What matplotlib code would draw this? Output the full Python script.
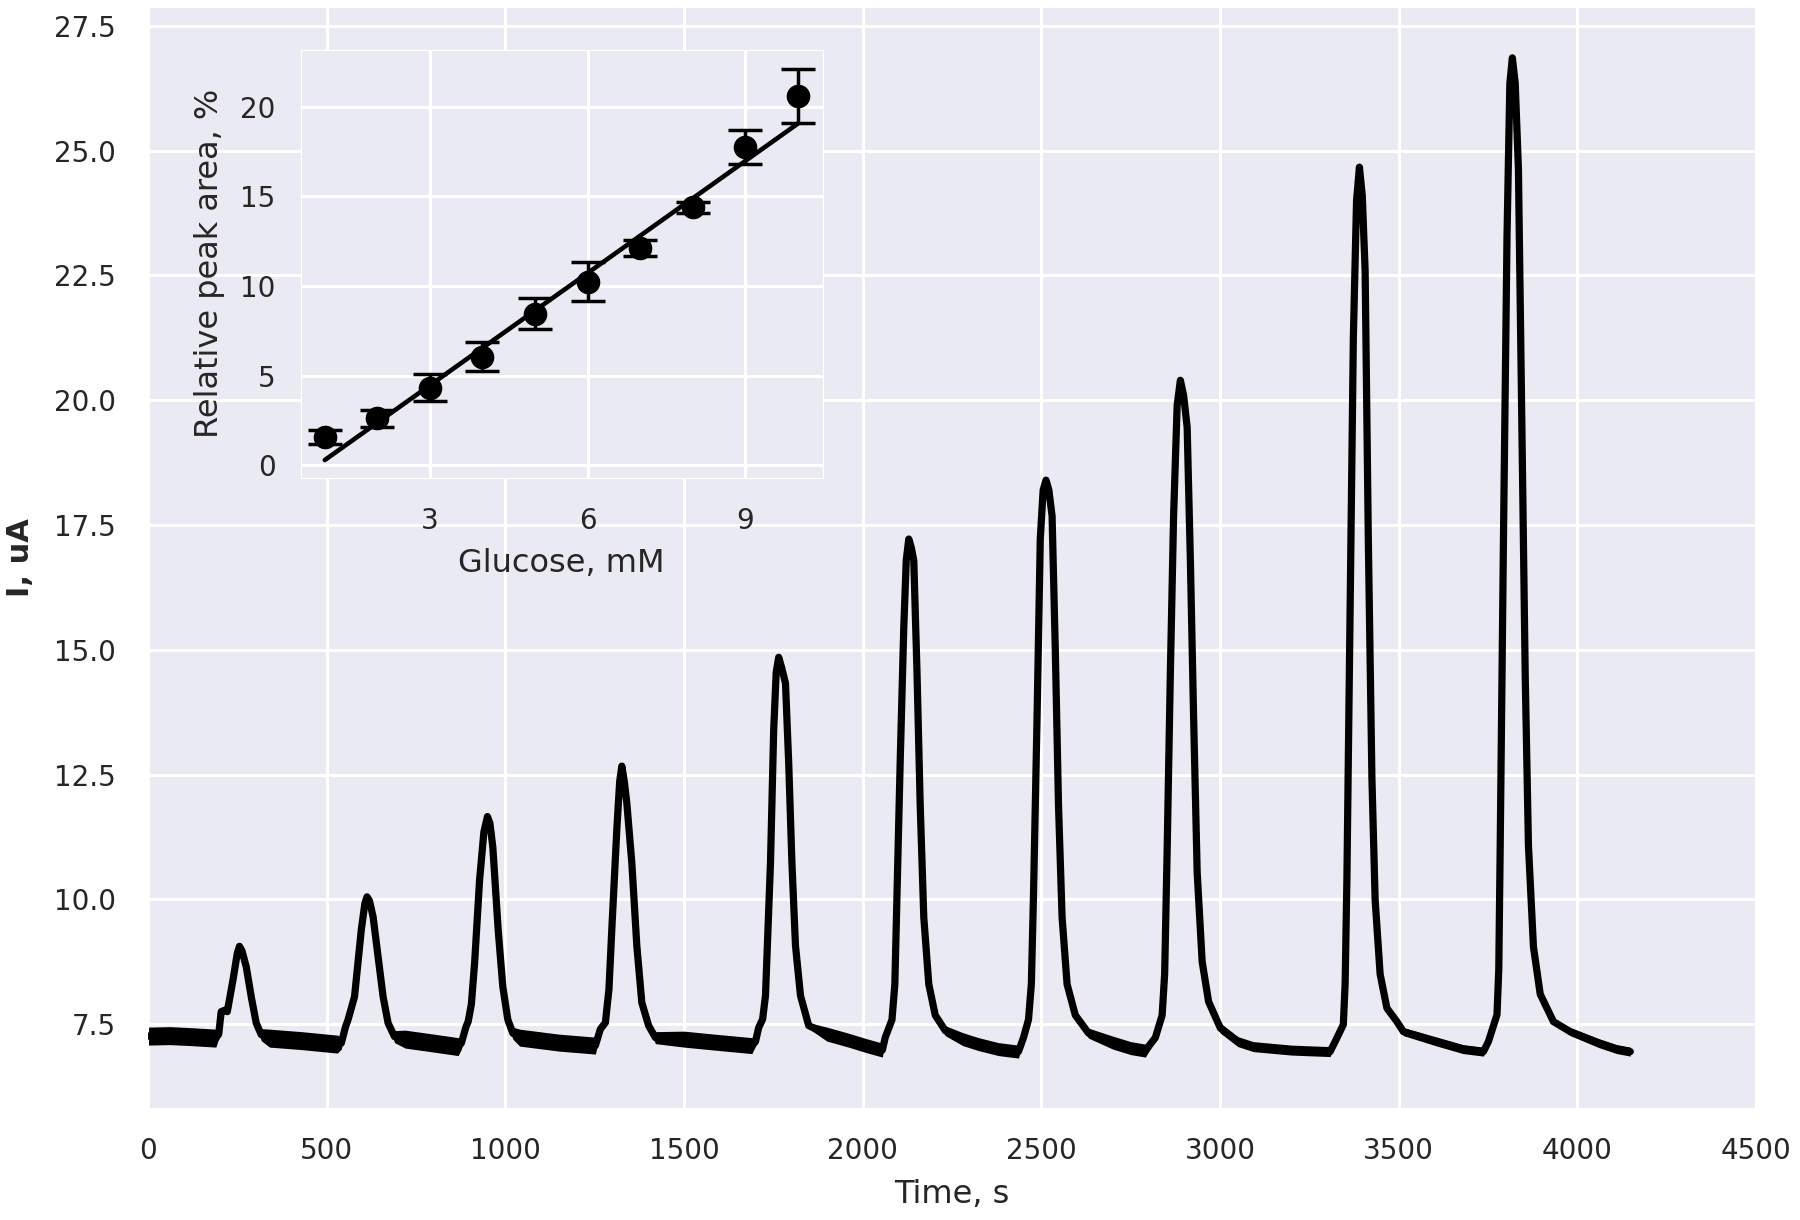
import matplotlib
matplotlib.use("Agg")
import matplotlib.pyplot as plt
import seaborn as sns

# Chronoamperometric trace:
# time (s), current (uA) and the half-width of the baseline noise band (uA).
time_s = [
    0, 60, 120, 190,
    198, 205, 215, 222, 238, 250, 256, 263, 275, 289, 303, 317,
    340, 430, 530,
    541, 553, 560, 578, 597, 607, 613, 620, 630, 644, 658, 672, 690,
    720, 800, 868,
    877, 890, 896, 905, 914, 928, 940, 950, 957, 965, 980, 993, 1007, 1021,
    1040, 1150, 1252,
    1266, 1280, 1290, 1298, 1312, 1320, 1326, 1333, 1340, 1354, 1368, 1382, 1401, 1420,
    1500, 1600, 1690,
    1700, 1709, 1720, 1728, 1742, 1751, 1758, 1765, 1773, 1784, 1793, 1802, 1812, 1826, 1849,
    1900, 1960, 2010, 2055,
    2063, 2082, 2090, 2096, 2105, 2115, 2122, 2129, 2136, 2143, 2152, 2161, 2171, 2185, 2203, 2231,
    2280, 2324, 2380, 2436,
    2450, 2464, 2472, 2478, 2488, 2497, 2505, 2513, 2521, 2530, 2539, 2548, 2558, 2572, 2595, 2632,
    2700, 2750, 2791,
    2819, 2838, 2845, 2852, 2861, 2870, 2880, 2889, 2898, 2908, 2917, 2926, 2936, 2950, 2968, 3001,
    3050, 3093, 3200, 3308,
    3322, 3345, 3350, 3355, 3364, 3373, 3382, 3390, 3398, 3406, 3415, 3425, 3434, 3448, 3467, 3495, 3513,
    3607, 3680, 3737,
    3751, 3775, 3780, 3784, 3793, 3803, 3811, 3818, 3826, 3835, 3845, 3854, 3863, 3877, 3896, 3933, 3980,
    4060, 4110, 4148,
]
current_ua = [
    7.26, 7.27, 7.25, 7.22,
    7.30, 7.75, 7.78, 7.75, 8.39, 8.92, 9.06, 8.97, 8.65, 8.05, 7.52, 7.29,
    7.22, 7.17, 7.10,
    7.12, 7.45, 7.59, 8.05, 9.39, 9.92, 10.05, 9.97, 9.65, 8.85, 8.05, 7.52, 7.25,
    7.20, 7.12, 7.05,
    7.12, 7.45, 7.55, 7.90, 8.72, 10.39, 11.35, 11.66, 11.52, 11.05, 9.39, 8.25, 7.59, 7.32,
    7.23, 7.13, 7.07,
    7.40, 7.53, 8.20, 9.40, 11.40, 12.36, 12.67, 12.36, 11.93, 10.73, 9.07, 7.93, 7.47, 7.23,
    7.20, 7.13, 7.07,
    7.15, 7.43, 7.60, 8.07, 10.73, 13.40, 14.55, 14.85, 14.65, 14.33, 12.73, 10.73, 9.07, 8.07, 7.47,
    7.30, 7.18, 7.07, 6.98,
    7.23, 7.59, 8.30, 10.09, 12.77, 15.45, 16.80, 17.22, 17.05, 16.79, 14.55, 11.88, 9.64, 8.30, 7.68, 7.37,
    7.20, 7.10, 7.00, 6.95,
    7.23, 7.59, 8.30, 10.09, 13.66, 17.23, 18.20, 18.40, 18.20, 17.68, 15.00, 11.88, 9.64, 8.30, 7.68, 7.32,
    7.13, 7.02, 6.97,
    7.23, 7.68, 8.50, 10.98, 14.55, 17.68, 19.90, 20.40, 20.10, 19.46, 16.79, 13.66, 10.54, 8.75, 7.95, 7.42,
    7.15, 7.05, 6.98, 6.95,
    7.15, 7.49, 8.30, 10.40, 15.82, 21.24, 24.00, 24.67, 24.10, 22.60, 17.17, 12.43, 9.99, 8.50, 7.82, 7.55, 7.35,
    7.15, 7.00, 6.95,
    7.15, 7.69, 8.60, 11.08, 17.17, 23.27, 26.35, 26.86, 26.35, 24.63, 19.21, 14.47, 11.08, 9.05, 8.10, 7.55, 7.35,
    7.12, 7.00, 6.95,
]
noise_ua = [
    .18, .18, .18, .18,
    .09, .05, .05, .05, 0, 0, 0, 0, 0, 0, .04, .12,
    .18, .18, .18,
    .12, .05, .03, 0, 0, 0, 0, 0, 0, 0, 0, .04, .12,
    .18, .18, .18,
    .12, .05, .03, 0, 0, 0, 0, 0, 0, 0, 0, 0, .04, .12,
    .17, .17, .17,
    .06, .03, 0, 0, 0, 0, 0, 0, 0, 0, 0, 0, .04, .12,
    .16, .16, .16,
    .09, .04, 0, 0, 0, 0, 0, 0, 0, 0, 0, 0, 0, 0, .06,
    .14, .14, .14, .14,
    .06, 0, 0, 0, 0, 0, 0, 0, 0, 0, 0, 0, 0, 0, .05, .10,
    .13, .13, .13, .13,
    .06, 0, 0, 0, 0, 0, 0, 0, 0, 0, 0, 0, 0, 0, .05, .10,
    .13, .13, .13,
    .06, 0, 0, 0, 0, 0, 0, 0, 0, 0, 0, 0, 0, 0, .04, .10,
    .10, .10, .10, .10,
    .06, 0, 0, 0, 0, 0, 0, 0, 0, 0, 0, 0, 0, 0, .03, .06, .08,
    .09, .09, .09,
    .05, 0, 0, 0, 0, 0, 0, 0, 0, 0, 0, 0, 0, 0, 0, .05, .08,
    .09, .09, .09,
]

# Inset: calibration of relative peak area vs glucose concentration.
glucose_mm = [1, 2, 3, 4, 5, 6, 7, 8, 9, 10]
peak_area = [1.59, 2.63, 4.32, 6.07, 8.46, 10.25, 12.10, 14.39, 17.75, 20.60]
peak_area_err = [0.38, 0.47, 0.75, 0.82, 0.86, 1.11, 0.45, 0.29, 0.97, 1.50]
fit_glucose = [1, 10]
fit_area = [0.30, 19.06]

sns.set_style("darkgrid")
plt.rcParams["font.family"] = ["DejaVu Sans"]
plt.rcParams.update({
    "grid.linewidth": 2.2,
    "xtick.major.size": 0,
    "ytick.major.size": 0,
    "xtick.major.pad": 21,
    "ytick.major.pad": 23,
    "xtick.labelsize": 20,
    "ytick.labelsize": 20,
    "axes.labelsize": 23,
})

fig = plt.figure(figsize=(18, 12.2), dpi=100)
ax = fig.add_axes([0.0822, 0.0918, 0.8934, 0.9025])

lo = [c - n for c, n in zip(current_ua, noise_ua)]
hi = [c + n for c, n in zip(current_ua, noise_ua)]
ax.fill_between(time_s, lo, hi, color="black", lw=0, zorder=2)
ax.plot(time_s, current_ua, color="black", lw=5.2, solid_joinstyle="round", zorder=3)

ax.set_xlim(0, 4500)
ax.set_ylim(5.82, 27.88)
ax.set_xticks(range(0, 4501, 500))
ax.set_yticks([7.5, 10, 12.5, 15, 17.5, 20, 22.5, 25, 27.5])
ax.set_yticklabels([f"{v:.1f}" for v in ax.get_yticks()])
ax.set_xlabel("Time, s", labelpad=10)
ax.set_ylabel("I, uA", fontweight="bold", fontsize=22, labelpad=14)

# inset
ins = fig.add_axes([0.167, 0.6082, 0.290, 0.3511])
ins.errorbar(glucose_mm, peak_area, yerr=peak_area_err, fmt="o", color="black",
             ms=16, elinewidth=2.5, capsize=12, capthick=2.5, zorder=3)
ins.plot(fit_glucose, fit_area, color="black", lw=3.3, zorder=2)
ins.set_xlim(0.54, 10.47)
ins.set_ylim(-0.7, 23.18)
ins.set_xticks([3, 6, 9])
ins.set_yticks([0, 5, 10, 15, 20])
ins.tick_params(axis="y", pad=18)
ins.tick_params(axis="x", pad=21)
ins.set_xlabel("Glucose, mM", labelpad=9)
ins.set_ylabel("Relative peak area, %", labelpad=11)

fig.savefig("out.png", dpi=100)
